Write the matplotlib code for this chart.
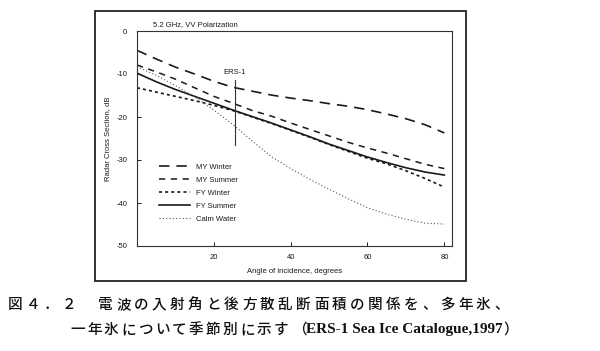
import matplotlib
matplotlib.use("Agg")
import matplotlib.pyplot as plt
from matplotlib.patches import Rectangle

plt.rcParams['lines.scale_dashes'] = False
plt.rcParams['axes.unicode_minus'] = False
plt.rcParams['font.family'] = ['Liberation Sans', 'DejaVu Sans']

# ---------------- data ----------------
angle = [0, 5, 10, 15, 20, 25, 30, 35, 40, 45, 50, 55, 60, 65, 70, 75, 80]
my_winter = [-4.5, -6.5, -8.4, -10.0, -11.7, -13.1, -14.0, -14.9, -15.6, -16.2,
             -16.9, -17.5, -18.3, -19.3, -20.4, -21.8, -23.7]
my_summer = [-7.9, -9.5, -11.2, -13.2, -15.2, -16.8, -18.5, -19.8, -21.4, -22.9,
             -24.4, -25.9, -27.2, -28.4, -29.7, -31.0, -32.0]
fy_winter = [-13.2, -14.2, -15.2, -16.2, -17.3, -18.5, -20.0, -21.5, -23.1, -24.7,
             -26.4, -28.0, -29.6, -30.9, -32.5, -34.3, -36.3]
fy_summer = [-9.8, -11.8, -13.6, -15.2, -16.8, -18.4, -19.9, -21.4, -23.0, -24.6,
             -26.3, -27.8, -29.3, -30.6, -31.8, -32.8, -33.5]
calm_water = [-8.3, -10.3, -12.7, -15.3, -18.4, -21.8, -25.6, -29.2, -32.0, -34.5,
              -36.8, -39.0, -41.1, -42.6, -43.8, -44.7, -44.9]
series_labels = ['MY Winter', 'MY Summer', 'FY Winter', 'FY Summer', 'Calm Water']
ers1_angle = 25.5
ers1_range = [-11.4, -26.5]
x_ticks = [20, 40, 60, 80]
y_ticks = [0, -10, -20, -30, -40, -50]
title = '5.2 GHz, VV Polarization'
xlabel = 'Angle of incidence, degrees'
ylabel = 'Radar Cross Section, dB'
caption1 = '図４．２　電波の入射角と後方散乱断面積の関係を、多年氷、'
caption2_cjk = '一年氷について季節別に示す'
caption2_open = '（'
caption2_lat = 'ERS-1 Sea Ice Catalogue,1997'
caption2_end = '）'

W, H = 600, 351
fig = plt.figure(figsize=(6.0, 3.51), dpi=100)
fig.patch.set_facecolor('white')

# outer frame
fig.patches.append(Rectangle((95 / W, 1 - 281 / H), (466 - 95) / W, (281 - 11) / H,
                             transform=fig.transFigure, fill=False,
                             edgecolor='#222222', linewidth=1.3))

ax = fig.add_axes([137 / W, 1 - 246 / H, (452 - 137) / W, (246 - 31) / H])
ax.set_xlim(0, 82)
ax.set_ylim(-50, 0)

ink = '#1a1a1a'
ax.plot(angle, my_winter, color=ink, lw=1.2, dashes=(7.5, 5.0), label=series_labels[0])
ax.plot(angle, my_summer, color=ink, lw=1.1, dashes=(4.5, 4.0), label=series_labels[1])
ax.plot(angle, fy_winter, color=ink, lw=1.2, dashes=(2.2, 2.2), label=series_labels[2])
ax.plot(angle, fy_summer, color=ink, lw=1.2, label=series_labels[3])
ax.plot(angle, calm_water, color='#555555', lw=0.8, dashes=(0.8, 1.6), label=series_labels[4])

# ERS-1 marker line
ax.plot([ers1_angle, ers1_angle], ers1_range, color='#333333', lw=0.8)
ax.text(ers1_angle, ers1_range[0] + 0.9, 'ERS-1', ha='center', va='bottom',
        fontsize=5.5, color=ink)

ax.set_xticks(x_ticks)
ax.set_yticks(y_ticks)
ax.tick_params(direction='in', length=3, width=0.7, labelsize=5.5, colors=ink, pad=6)
ax.tick_params(axis='y', pad=7)
for s in ax.spines.values():
    s.set_linewidth(0.8)
    s.set_color('#333333')

ax.set_xlabel(xlabel, fontsize=5.5, color=ink, labelpad=5)
ax.set_ylabel(ylabel, fontsize=5.5, color=ink, labelpad=4)
ax.text(0.05, 1.012, title, transform=ax.transAxes, fontsize=5.5, color=ink,
        ha='left', va='bottom')

leg = ax.legend(loc='upper left', bbox_to_anchor=(0.07, 0.385), frameon=False,
                fontsize=5.5, handlelength=4.0, handletextpad=0.8,
                labelspacing=0.75, borderpad=0, borderaxespad=0)
for t in leg.get_texts():
    t.set_color(ink)

# caption, drawn character by character with fixed pitch (Mincho-like tracking)
cjk = ['Noto Sans CJK JP', 'DejaVu Sans']
cap_kw = dict(family=cjk, fontsize=10.5, color='#111111', fontweight='medium')


def draw_chars(s, x0, y, pitch, **kw):
    for i, ch in enumerate(s):
        fig.text((x0 + i * pitch) / W, 1 - y / H, ch, ha='left', va='center', **kw)
    return x0 + len(s) * pitch


draw_chars(caption1, 8, 305, 18.0, **cap_kw)
xe = draw_chars(caption2_cjk, 70, 330, 17.0, **cap_kw)
fig.text((xe + 1) / W, 1 - 330 / H, caption2_open, ha='left', va='center', **cap_kw)
lat = fig.text((xe + 15) / W, 1 - 330 / H, caption2_lat, ha='left', va='center',
               family=['Liberation Serif'], fontweight='bold', fontsize=11,
               color='#111111')
fig.canvas.draw()
bb = lat.get_window_extent()
fig.text((bb.x1 + 1) / W, 1 - 330 / H, caption2_end, ha='left', va='center', **cap_kw)

fig.savefig('out.png', dpi=100, facecolor='white')
